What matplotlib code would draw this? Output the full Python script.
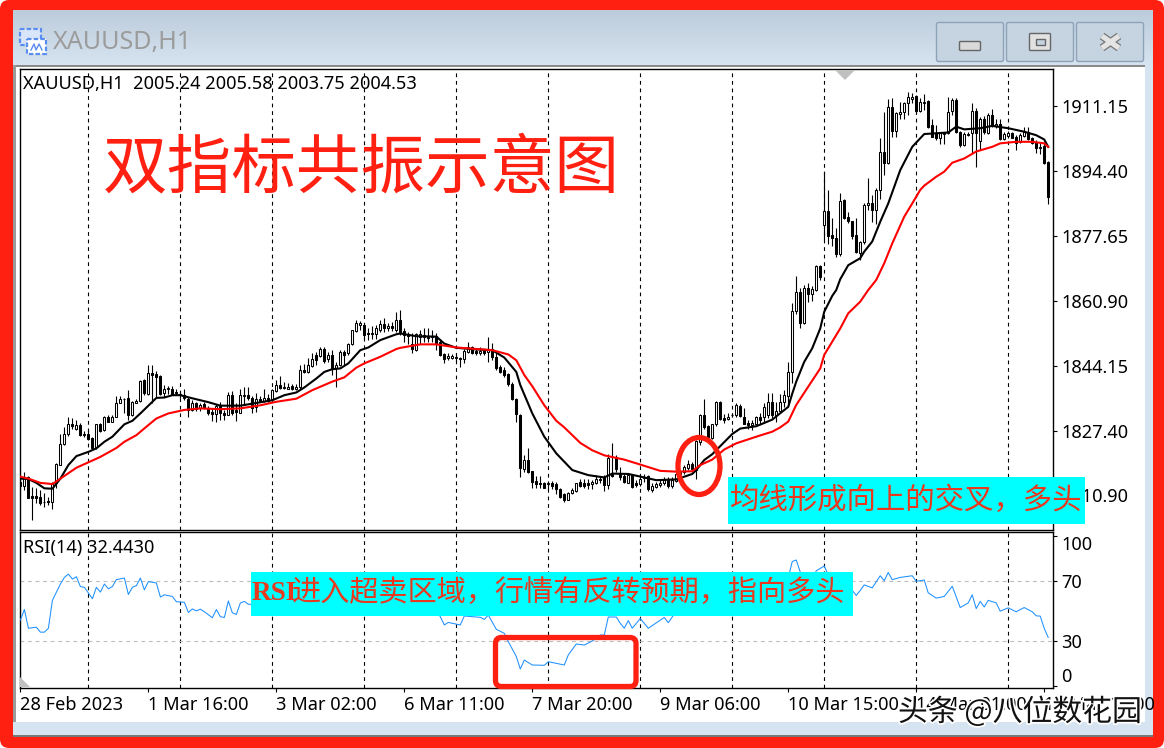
import numpy as np
import matplotlib
matplotlib.use("Agg")
import matplotlib.pyplot as plt
import matplotlib.patheffects as pe
from matplotlib.patches import Rectangle, Ellipse, FancyBboxPatch, Polygon
from matplotlib.transforms import ScaledTranslation

plt.rcParams['font.family'] = ['Noto Sans', 'Noto Sans CJK SC', 'DejaVu Sans']

# ---- candles ----
opens = [
1814.2,1813.2,1815.5,1810.5,1810.5,1810.3,1809.1,1809.3,1809.1,1813.8,
1818.6,1823.8,1826.4,1829.0,1827.9,1828.8,1826.4,1826.4,1825.4,1823.2,
1829.0,1827.5,1830.8,1829.6,1830.9,1834.5,1835.6,1835.7,1831.4,1834.5,
1835.1,1840.4,1836.7,1842.1,1841.9,1841.4,1837.1,1838.1,1838.2,1837.4,
1836.6,1836.5,1835.6,1832.7,1834.4,1833.2,1834.2,1833.3,1832.1,1831.6,
1833.7,1831.8,1831.4,1836.5,1832.7,1832.0,1836.3,1836.5,1835.9,1833.5,
1835.6,1835.1,1835.9,1835.4,1837.6,1839.2,1838.4,1838.2,1838.8,1838.1,
1838.5,1843.1,1842.5,1844.1,1846.8,1846.6,1848.4,1845.7,1846.8,1843.4,
1844.2,1847.7,1847.3,1849.8,1853.1,1854.6,1854.5,1852.4,1852.2,1852.2,
1853.4,1854.8,1853.7,1854.3,1853.3,1856.0,1853.1,1852.0,1849.8,1848.1,
1851.6,1852.0,1851.6,1851.4,1851.7,1850.3,1847.0,1846.0,1846.2,1846.4,
1846.2,1845.7,1847.7,1849.0,1847.9,1847.4,1848.1,1847.7,1848.3,1846.4,
1843.8,1843.0,1841.9,1839.5,1835.4,1831.5,1817.4,1819.8,1816.9,1814.4,
1813.9,1813.8,1813.6,1813.9,1813.6,1812.4,1811.0,1809.6,1811.2,1811.9,
1814.1,1813.9,1813.8,1813.5,1813.9,1814.6,1815.5,1813.3,1816.2,1820.6,
1816.3,1815.8,1813.9,1815.9,1813.8,1813.6,1815.1,1815.6,1812.0,1812.9,
1813.4,1813.8,1814.6,1813.2,1814.4,1816.3,1816.8,1817.7,1818.7,1817.2,
1824.5,1831.3,1828.5,1825.4,1829.0,1834.8,1830.5,1830.4,1831.3,1831.3,
1833.8,1830.9,1829.4,1828.9,1829.2,1830.9,1830.8,1831.4,1834.8,1831.4,
1832.5,1834.8,1836.4,1842.4,1858.3,1863.1,1855.0,1864.0,1862.7,1863.6,
1869.8,1880.3,1883.9,1877.7,1876.9,1873.0,1886.8,1882.3,1881.3,1877.7,
1873.2,1876.1,1885.4,1886.0,1884.1,1889.4,1899.1,1896.4,1910.7,1904.7,
1909.0,1909.6,1911.7,1912.9,1913.6,1909.8,1911.9,1912.3,1906.0,1904.1,
1902.7,1903.9,1904.0,1909.8,1912.7,1904.3,1901.0,1903.5,1904.0,1909.8,
1902.1,1907.6,1904.0,1908.7,1905.9,1906.4,1902.4,1903.3,1904.0,1903.1,
1901.7,1903.3,1904.4,1902.7,1901.8,1900.2,1900.7,1896.5]
highs = [
1815.5,1816.8,1815.6,1812.9,1812.7,1812.0,1811.2,1810.3,1814.2,1818.9,
1826.6,1828.4,1830.9,1830.5,1830.2,1829.4,1827.3,1827.5,1825.8,1829.2,
1829.4,1831.1,1831.4,1831.4,1836.3,1836.3,1835.9,1837.8,1835.0,1835.4,
1840.4,1840.6,1844.4,1844.4,1842.8,1841.6,1839.1,1838.8,1838.8,1838.0,
1837.6,1838.0,1836.1,1835.2,1834.7,1834.5,1834.7,1833.7,1833.1,1834.2,
1834.7,1832.7,1837.3,1837.6,1834.4,1838.0,1838.7,1838.7,1836.3,1837.0,
1836.3,1838.0,1836.8,1838.2,1840.4,1841.4,1840.0,1839.7,1839.5,1839.5,
1844.2,1844.5,1846.2,1847.3,1847.7,1849.0,1848.8,1847.7,1848.1,1845.1,
1848.1,1848.1,1850.0,1853.4,1856.0,1855.7,1855.0,1853.7,1854.3,1854.6,
1855.8,1856.3,1855.2,1855.4,1858.0,1858.4,1853.7,1852.8,1852.4,1852.6,
1853.4,1853.7,1853.7,1853.4,1852.4,1850.9,1847.3,1847.3,1847.1,1847.3,
1846.4,1848.5,1850.3,1849.1,1848.5,1848.8,1848.5,1851.4,1850.0,1847.7,
1844.2,1843.8,1842.1,1840.0,1835.7,1831.6,1821.1,1823.0,1817.0,1815.6,
1815.6,1814.2,1814.2,1814.4,1814.2,1812.7,1811.3,1811.6,1812.7,1813.9,
1815.0,1815.0,1815.0,1814.6,1815.9,1815.8,1815.9,1821.3,1824.1,1821.1,
1818.1,1816.3,1816.3,1816.3,1814.6,1815.9,1816.3,1815.9,1813.8,1814.2,
1815.0,1815.5,1815.5,1815.5,1816.8,1817.2,1818.5,1819.9,1819.3,1824.9,
1831.6,1835.4,1828.8,1829.2,1835.0,1835.0,1831.6,1831.8,1832.0,1834.4,
1834.2,1833.1,1830.1,1830.1,1831.1,1831.8,1834.4,1837.1,1837.0,1834.8,
1836.8,1837.8,1845.1,1860.2,1867.2,1864.0,1864.9,1865.3,1864.6,1870.0,
1870.0,1894.1,1889.4,1882.1,1879.5,1888.7,1887.0,1883.6,1881.5,1882.1,
1876.2,1885.9,1892.4,1888.1,1889.8,1902.7,1909.6,1912.8,1913.0,1909.6,
1912.1,1912.1,1914.6,1914.3,1913.9,1913.0,1914.1,1912.6,1907.8,1906.1,
1904.4,1904.4,1913.4,1913.0,1913.0,1904.7,1904.4,1904.4,1911.9,1910.4,
1908.3,1908.4,1909.1,1910.3,1907.8,1907.8,1904.2,1904.7,1904.4,1903.5,
1904.0,1905.7,1905.5,1903.1,1902.3,1901.4,1901.8,1896.8]
lows = [
1811.9,1812.0,1809.9,1804.3,1808.6,1808.2,1807.6,1808.2,1807.1,1812.7,
1818.5,1823.6,1826.1,1827.9,1827.5,1826.0,1825.8,1824.9,1822.5,1822.7,
1827.0,1827.3,1829.5,1829.5,1830.8,1834.4,1831.8,1830.1,1831.1,1834.4,
1834.8,1836.5,1836.5,1834.4,1836.1,1836.5,1836.1,1836.8,1836.8,1836.5,
1835.9,1835.2,1830.9,1832.5,1832.5,1832.3,1833.0,1831.4,1829.9,1829.6,
1830.2,1830.2,1831.3,1831.4,1829.9,1831.8,1834.2,1835.2,1832.0,1832.2,
1834.7,1834.8,1834.8,1835.2,1837.4,1838.0,1838.0,1838.0,1837.8,1837.8,
1838.2,1842.1,1842.3,1843.8,1844.2,1846.4,1844.7,1845.1,1841.7,1838.7,
1844.1,1844.2,1846.8,1849.4,1852.8,1853.3,1850.9,1850.7,1850.9,1850.9,
1852.8,1852.8,1853.1,1853.1,1852.8,1852.0,1850.3,1849.8,1847.3,1847.9,
1849.8,1850.3,1850.3,1850.3,1848.1,1846.6,1844.9,1845.5,1845.7,1845.4,
1843.8,1844.7,1847.3,1847.1,1846.8,1846.8,1846.8,1845.1,1845.5,1843.1,
1842.3,1841.1,1838.8,1835.2,1829.6,1815.5,1816.8,1816.5,1812.5,1812.5,
1812.7,1812.5,1812.4,1812.2,1811.0,1810.1,1808.9,1809.5,1811.0,1811.6,
1812.9,1812.5,1812.4,1812.2,1813.6,1813.9,1811.9,1812.2,1815.5,1816.8,
1814.6,1813.8,1813.8,1812.7,1812.9,1813.2,1814.2,1811.9,1811.6,1812.5,
1812.9,1813.3,1812.7,1812.5,1814.2,1815.9,1816.3,1817.2,1816.8,1815.0,
1823.6,1827.9,1824.9,1825.3,1828.5,1830.1,1829.4,1830.1,1830.8,1830.9,
1830.8,1829.0,1827.9,1827.5,1828.8,1829.0,1829.4,1830.5,1830.5,1829.6,
1832.2,1833.5,1833.5,1839.6,1857.4,1853.7,1854.8,1860.6,1860.8,1863.3,
1866.2,1876.5,1875.5,1875.0,1872.0,1872.4,1882.0,1881.0,1876.7,1873.2,
1871.3,1875.4,1884.1,1881.2,1880.6,1887.1,1893.2,1896.2,1903.1,1903.1,
1907.8,1907.8,1908.7,1911.7,1909.1,1909.6,1910.0,1905.3,1903.0,1902.3,
1901.2,1901.2,1903.8,1908.7,1904.0,1900.5,1900.7,1903.3,1898.8,1895.2,
1899.7,1903.8,1903.8,1905.7,1905.3,1902.3,1902.3,1902.9,1902.7,1899.7,
1901.4,1903.1,1902.3,1901.2,1899.0,1898.7,1896.1,1885.7]
closes = [
1813.1,1815.5,1809.9,1810.1,1810.1,1808.8,1808.9,1808.9,1813.9,1818.7,
1823.8,1826.4,1829.2,1828.5,1828.7,1826.2,1826.2,1825.3,1823.0,1829.0,
1827.3,1830.8,1829.6,1831.0,1834.5,1835.5,1835.4,1831.4,1834.7,1835.1,
1840.2,1837.0,1842.1,1841.7,1841.2,1836.7,1838.2,1838.4,1836.9,1837.1,
1836.9,1835.7,1832.8,1834.4,1833.0,1834.0,1833.3,1832.0,1831.6,1833.7,
1831.8,1831.4,1836.5,1832.0,1832.2,1836.5,1836.5,1835.7,1833.3,1835.6,
1835.1,1835.9,1835.1,1837.8,1839.2,1838.3,1838.7,1838.7,1838.1,1838.7,
1843.1,1842.4,1844.2,1845.7,1845.5,1848.4,1845.2,1846.8,1843.4,1844.4,
1847.6,1846.8,1849.8,1853.3,1855.0,1855.0,1852.0,1852.2,1852.6,1853.7,
1854.8,1853.7,1854.3,1853.7,1855.8,1852.8,1852.0,1851.7,1848.3,1852.2,
1852.2,1851.4,1851.2,1851.7,1850.0,1846.8,1845.7,1846.6,1846.6,1846.1,
1845.7,1847.9,1849.0,1847.4,1847.4,1847.9,1847.4,1848.3,1846.4,1843.4,
1842.5,1841.7,1839.4,1835.4,1831.6,1817.8,1819.9,1816.8,1814.2,1813.6,
1813.7,1812.7,1813.9,1813.1,1812.2,1810.3,1809.5,1811.3,1812.0,1813.8,
1813.1,1813.1,1813.3,1814.2,1814.8,1815.0,1813.3,1820.2,1815.6,1817.4,
1815.3,1814.1,1815.9,1812.9,1813.3,1815.0,1815.5,1812.2,1813.1,1813.6,
1813.9,1814.6,1813.2,1814.6,1816.3,1816.8,1818.0,1818.7,1817.4,1824.7,
1831.3,1828.4,1825.6,1829.0,1834.8,1830.4,1830.2,1830.8,1831.5,1833.9,
1831.1,1829.2,1828.8,1829.4,1830.8,1830.2,1833.5,1834.8,1831.4,1832.5,
1834.8,1836.5,1842.4,1858.3,1863.0,1855.2,1864.0,1862.7,1863.8,1869.8,
1867.0,1883.9,1877.6,1876.9,1872.9,1886.6,1882.2,1881.3,1877.6,1873.3,
1876.1,1885.4,1886.0,1884.1,1889.5,1899.1,1896.4,1910.7,1904.7,1909.1,
1909.6,1911.7,1913.3,1913.3,1909.8,1912.0,1912.1,1905.7,1903.1,1902.7,
1904.1,1904.1,1909.6,1912.6,1904.2,1900.9,1903.8,1903.8,1909.8,1904.0,
1907.6,1904.2,1908.7,1906.1,1906.4,1902.4,1903.8,1904.0,1902.9,1901.6,
1903.5,1904.4,1902.4,1901.4,1900.1,1900.5,1896.4,1887.5]

# ---- moving averages (bar index, price) ----
fast_idx = [0,2,4,6,8,10,12,14,17,19,21,23,26,28,30,33,34,36,38,40,43,47,50,55,59,63,66,69,71,74,76,78,80,82,85,87,90,94,95,99,104,106,109,114,118,121,124,125,128,131,134,138,142,146,148,152,156,159,164,166,168,169,171,173,178,180,184,188,192,193,194,196,198,200,201,203,204,205,207,210,211,213,215,217,220,223,226,229,232,234,236,240,243,247,251,254,256,257]
fast_ma = [1815.0,1814.9,1813.9,1812.5,1812.4,1815.0,1818.5,1820.8,1821.9,1822.8,1824.5,1825.8,1829.0,1829.9,1831.8,1834.8,1835.8,1835.9,1836.5,1836.5,1835.7,1834.7,1833.8,1833.8,1834.5,1835.2,1836.5,1837.2,1838.5,1840.8,1842.5,1843.2,1843.4,1844.7,1848.1,1848.8,1850.7,1852.2,1852.4,1851.7,1851.6,1849.8,1848.7,1848.3,1848.1,1846.2,1842.5,1839.1,1831.8,1825.8,1821.5,1817.2,1815.9,1815.3,1816.3,1816.2,1815.3,1814.6,1814.8,1815.5,1816.2,1817.2,1819.8,1821.3,1826.5,1827.9,1828.5,1830.2,1833.5,1836.9,1840.0,1845.1,1848.6,1853.7,1858.0,1862.1,1863.6,1866.4,1870.0,1871.8,1873.5,1876.1,1881.2,1885.9,1894.5,1900.5,1903.8,1904.0,1904.2,1905.7,1905.0,1905.3,1905.9,1905.3,1904.4,1903.5,1902.4,1900.5]
slow_idx = [0,2,5,8,10,14,17,20,24,26,29,32,34,37,41,45,50,55,60,64,69,73,78,81,84,86,90,94,95,100,104,109,118,122,124,126,128,131,134,136,140,143,146,151,156,160,164,168,170,173,176,179,184,188,190,192,194,197,200,201,203,205,207,210,212,214,216,218,221,223,225,226,229,231,233,236,239,243,245,249,253,256,257]
slow_ma = [1815.5,1815.0,1813.9,1813.6,1815.0,1817.8,1819.2,1820.6,1822.9,1824.5,1826.2,1828.8,1830.5,1831.8,1832.7,1833.1,1832.9,1833.1,1833.9,1834.8,1835.6,1837.8,1840.0,1841.1,1843.6,1844.7,1846.4,1848.4,1848.7,1849.6,1849.6,1848.8,1848.1,1847.0,1845.5,1841.7,1838.8,1833.9,1829.9,1828.2,1824.2,1822.3,1821.0,1819.9,1818.3,1817.0,1816.8,1816.9,1818.5,1819.9,1822.5,1824.1,1825.8,1827.1,1828.2,1829.7,1834.0,1838.7,1843.4,1846.9,1850.3,1853.7,1857.6,1860.6,1863.6,1866.2,1870.5,1875.6,1882.5,1885.9,1889.4,1890.5,1892.8,1894.1,1896.4,1897.5,1899.3,1900.5,1901.4,1901.8,1901.8,1901.4,1900.5]

# ---- RSI (bar index, value); the stretches under the cyan box are rough guesses ----
rsi_idx = [0,1,2,4,5,6,7,8,10,11,12,13,14,15,16,18,19,20,21,22,23,24,26,27,28,29,30,31,32,34,35,36,38,39,41,42,43,44,45,46,48,49,50,51,52,53,54,55,56,57,
104,105,106,107,108,110,111,113,115,116,117,119,121,122,124,125,126,128,131,132,136,137,139,141,143,145,146,147,149,150,151,152,153,155,157,161,162,164,
192,193,194,195,196,198,199,201,202,208,209,210,211,213,215,216,217,218,220,223,224,226,227,229,231,233,235,237,238,239,240,241,242,244,245,247,249,251,253,254,255,256,257]
rsi_val = [44.0,51.0,38.5,39.2,35.9,35.9,38.5,57.1,68.0,72.4,74.6,71.3,72.8,66.3,65.8,58.2,65.8,62.6,68.0,64.8,66.3,70.9,72.0,61.0,65.8,66.9,72.0,64.1,69.6,68.7,59.3,60.8,59.7,56.2,55.8,49.0,51.4,50.1,51.2,49.5,45.5,51.0,46.2,45.7,56.7,48.8,47.7,55.4,56.4,54.5,
50.0,46.2,40.7,42.4,41.8,40.7,46.7,46.2,45.8,44.4,47.3,37.8,35.1,29.6,19.6,11.3,17.3,14.0,13.8,16.2,14.0,20.7,28.0,27.3,30.0,34.0,34.0,46.0,46.0,41.8,38.5,43.6,38.5,45.0,38.5,45.7,42.2,50.0,
72.0,83.0,84.0,76.0,70.0,70.0,76.8,80.0,74.0,63.7,60.4,63.7,67.4,65.4,73.5,70.2,75.7,70.9,72.4,73.5,69.8,70.7,62.1,58.6,59.7,66.5,52.3,55.4,60.8,51.6,56.4,52.7,57.1,55.4,49.9,52.1,49.5,52.3,49.5,46.8,46.6,38.5,32.4]

price_ticks = [1911.15, 1894.40, 1877.65, 1860.90, 1844.15, 1827.40, 1810.90]
price_labels = ['1911.15', '1894.40', '1877.65', '1860.90', '1844.15', '1827.40', '1810.90']
rsi_ticks = [100, 70, 30, 0]
time_ticks = [0, 32, 64, 96, 128, 160, 192, 224, 256]
time_labels = ['28 Feb 2023', '1 Mar 16:00', '3 Mar 02:00', '6 Mar 11:00', '7 Mar 20:00',
               '9 Mar 06:00', '10 Mar 15:00', '14 Mar 01:00', '15 Mar 10:00']
grid_bars = [17, 40, 63, 86, 109, 132, 155, 178, 201, 224, 247]

W, H = 1164, 748
RED = '#FF2012'
TEXT_RED = '#E8381E'
CJK = ['Noto Sans CJK SC', 'DejaVu Sans']
SIZE = 13.1


def box(l, t, r, b):
    return [l / W, 1 - b / H, (r - l) / W, (b - t) / H]


fig = plt.figure(figsize=(W / 100, H / 100), dpi=100, facecolor='white')

# window chrome
bg = fig.add_axes([0, 0, 1, 1], zorder=0)
bg.axis('off')
bg.add_patch(FancyBboxPatch((0, 0), W, H, boxstyle='round,pad=0,rounding_size=9', fc=RED, ec='none'))
grad = np.linspace(0, 1, 60)[:, None]
top_c, bot_c = np.array([0.74, 0.80, 0.86]), np.array([0.84, 0.89, 0.94])
bg.imshow(top_c + grad[..., None] * (bot_c - top_c), extent=(13, 1153, 65, 10), aspect='auto', zorder=1)
bg.set_xlim(0, W)
bg.set_ylim(H, 0)
bg.add_patch(Rectangle((13, 65), 1140, 672, fc='#D6E3F0', ec='none', zorder=1))
bg.add_patch(Rectangle((13, 65), 1132, 2, fc='#8A8A8A', ec='none', zorder=2))
bg.add_patch(Rectangle((13, 65), 3, 657, fc='#9A9A9A', ec='none', zorder=2))
bg.add_patch(Rectangle((16, 67), 1129, 655, fc='white', ec='none', zorder=2))
bg.add_patch(Rectangle((13, 735), 1140, 2, fc='#777777', ec='none', zorder=2))

for left in (936.5, 1006.5, 1076.5):
    bg.add_patch(FancyBboxPatch((left, 22.5), 67, 39, boxstyle='round,pad=0,rounding_size=2',
                                fc='#C6D3E1', ec='#8FA3B8', lw=1, zorder=3))
bg.add_patch(FancyBboxPatch((959.5, 41.5), 21, 9, boxstyle='round,pad=0,rounding_size=1',
                            fc='#D9D9D9', ec='#666666', lw=1, zorder=4))
bg.add_patch(FancyBboxPatch((1029.5, 33.5), 21, 17, boxstyle='round,pad=0,rounding_size=1',
                            fc='#E2E2E2', ec='#666666', lw=1, zorder=4))
bg.add_patch(Rectangle((1035.5, 38.5), 9.5, 6, fc='#C6D3E1', ec='#666666', lw=1, zorder=5))
for pts in (((1102, 36), (1119, 48)), ((1119, 36), (1102, 48))):
    xs, ys = zip(*pts)
    bg.plot(xs, ys, color='#777777', lw=5.6, solid_capstyle='butt', zorder=4)
for pts in (((1102, 36), (1119, 48)), ((1119, 36), (1102, 48))):
    xs, ys = zip(*pts)
    bg.plot(xs, ys, color='#E4E4E4', lw=3.8, solid_capstyle='butt', zorder=5)

bg.add_patch(Rectangle((20, 29), 21, 16, fc='#D9E6FA', ec='#5A8DF0', lw=1.6, ls=(0, (2, 1)), zorder=3))
bg.add_patch(Rectangle((27, 39), 19, 15, fc='white', ec='#5A8DF0', lw=1.6, ls=(0, (2, 1)), zorder=3))
bg.plot([31, 34, 36, 39, 42], [50, 44, 50, 44, 50], color='#5A8DF0', lw=1, zorder=4)
bg.text(53, 42, 'XAUUSD,H1', fontsize=18.1, color='#9C9C9C', va='center', ha='left', zorder=4)

# price panel
ax = fig.add_axes(box(20, 69, 1053, 530), zorder=1)
x = np.arange(len(opens))
o, h, l, c = map(np.array, (opens, highs, lows, closes))
up = c >= o
for xg in grid_bars:
    ax.axvline(xg, color='black', lw=0.8, ls=(0, (3.4, 3.4)), zorder=1)
ax.vlines(x, l, h, color='black', lw=0.8, zorder=2)
ax.bar(x, np.abs(c - o), bottom=np.minimum(o, c), width=0.55,
       color=['white' if u else 'black' for u in up], edgecolor='black', lw=0.75, zorder=3)
ax.plot(fast_idx, fast_ma, color='black', lw=1.5, zorder=4)
ax.plot(slow_idx, slow_ma, color='#FF0000', lw=1.5, zorder=5)
ax.set_xlim(-0.1, 258.2)
ax.set_ylim(1801.76, 1920.56)
ax.set_xticks([])
ax.yaxis.tick_right()
ax.set_yticks(price_ticks)
ax.set_yticklabels(price_labels)
ax.tick_params(axis='y', length=3, width=0.8, pad=2.8, labelsize=SIZE)
for s in ax.spines.values():
    s.set_linewidth(1)

# RSI panel
ax2 = fig.add_axes(box(20, 532, 1053, 688), zorder=1)
for xg in grid_bars:
    ax2.axvline(xg, color='black', lw=0.8, ls=(0, (3.4, 3.4)), zorder=1)
for lvl in (30, 70):
    ax2.axhline(lvl, color='#BDBDBD', lw=0.8, ls=(0, (3.4, 3.4)), zorder=1)
ax2.plot(rsi_idx, rsi_val, color='#1E90FF', lw=0.75, zorder=3)
ax2.set_xlim(-0.1, 258.2)
ax2.set_ylim(-1.33, 102.67)
ax2.yaxis.tick_right()
ax2.set_yticks(rsi_ticks)
ax2.set_yticklabels([str(v) for v in rsi_ticks])
ax2.get_yticklabels()[0].set_va('top')
ax2.get_yticklabels()[3].set_va('bottom')
lab100 = ax2.get_yticklabels()[0]
lab100.set_transform(lab100.get_transform() + ScaledTranslation(0, -3 / 100, fig.dpi_scale_trans))
ax2.set_xticks(time_ticks)
ax2.set_xticklabels(time_labels, ha='left')
ax2.tick_params(axis='y', length=3, width=0.8, pad=2.8, labelsize=SIZE)
ax2.tick_params(axis='x', length=3, width=0.8, pad=3, labelsize=SIZE)
for s in ax2.spines.values():
    s.set_linewidth(1)

# annotations on top, in pixels
top = fig.add_axes([0, 0, 1, 1], zorder=2)
top.set_xlim(0, W)
top.set_ylim(H, 0)
top.axis('off')
top.patch.set_alpha(0)
top.text(23, 84, 'XAUUSD,H1  2005.24 2005.58 2003.75 2004.53', fontsize=SIZE, va='center', ha='left')
top.text(23, 548, 'RSI(14) 32.4430', fontsize=SIZE, va='center', ha='left')
top.add_patch(Polygon([(835, 70), (855, 70), (845, 80)], fc='#C0C0C0', ec='none'))
top.add_patch(Polygon([(20, 677), (20, 687), (30, 687)], fc='#C0C0C0', ec='none'))
top.text(361.5, 169, '双指标共振示意图', fontsize=46.5, color=RED, family=CJK, va='center', ha='center')

top.add_patch(Rectangle((728, 477), 357, 47, fc='#00FFFF', ec='none'))
top.text(906.5, 500, '均线形成向上的交叉，多头', fontsize=21.2, color=TEXT_RED, family=CJK, va='center', ha='center')
top.add_patch(Rectangle((251, 572), 602, 44, fc='#00FFFF', ec='none'))
top.text(252, 593, 'RSI', fontsize=19.5, color=TEXT_RED, family='Liberation Serif', weight='bold', va='center', ha='left')
top.text(292, 593, '进入超卖区域，行情有反转预期，指向多头', fontsize=21, color=TEXT_RED, family=CJK, va='center', ha='left')

top.add_patch(Ellipse((699, 466), 42, 57, fc='none', ec=RED, lw=3.8))
top.add_patch(FancyBboxPatch((495.5, 637.5), 140.5, 49, boxstyle='round,pad=0,rounding_size=6',
                             fc='none', ec=RED, lw=3.8))
top.text(1020, 712, '头条 @八位数花园', fontsize=21.5, color='#111111', family=CJK, va='center', ha='center',
         path_effects=[pe.withStroke(linewidth=2.5, foreground='white')])

fig.savefig('out.png', dpi=100)
